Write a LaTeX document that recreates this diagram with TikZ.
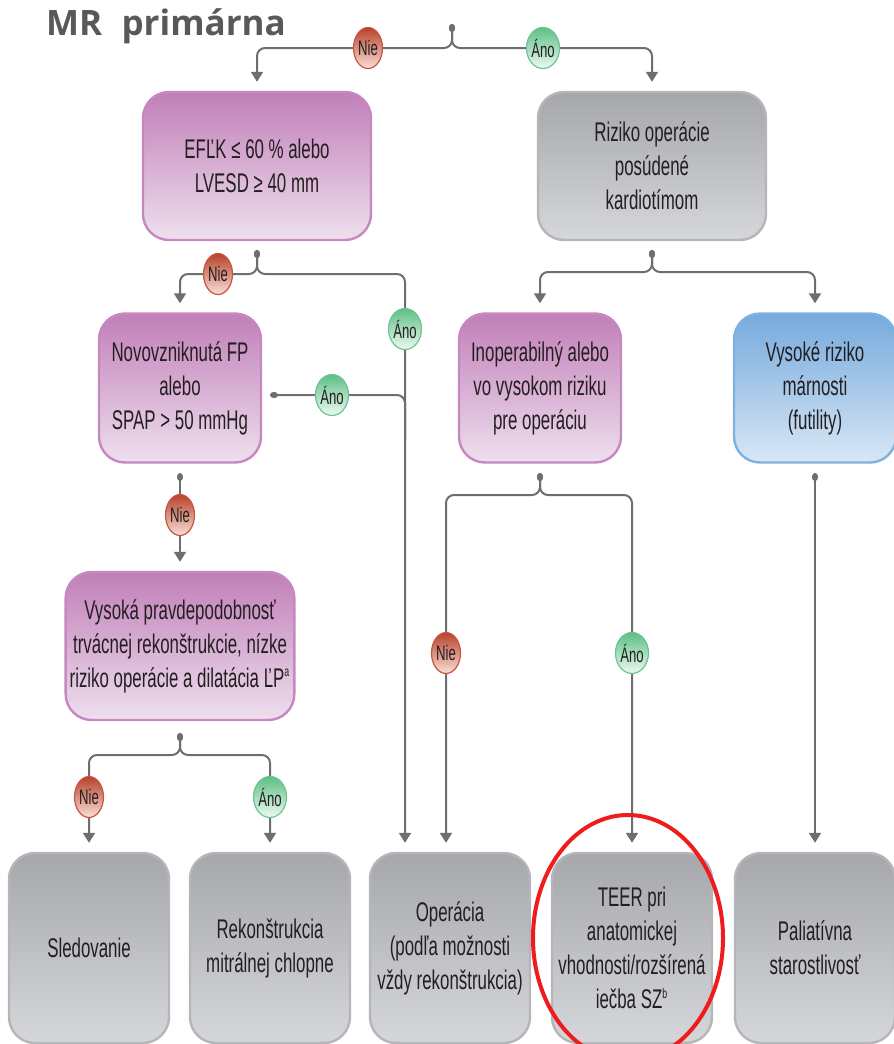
\documentclass[tikz,border=0pt]{standalone}
\usepackage{fontspec}
\setmainfont{Liberation Sans}[FakeStretch=0.625]
\newfontfamily\titlefont{Open Sans}
\usetikzlibrary{arrows.meta,shapes.geometric}
\definecolor{linec}{HTML}{6D6E71}
\definecolor{titlec}{HTML}{58595B}
\definecolor{boxtext}{HTML}{231F20}
\definecolor{pinktop}{HTML}{C17FB8}
\definecolor{pinkbot}{HTML}{EEDFEE}
\definecolor{pinkline}{HTML}{C688C0}
\definecolor{greytop}{HTML}{A5A7AA}
\definecolor{greybot}{HTML}{D5D7DA}
\definecolor{greyline}{HTML}{B4B6B9}
\definecolor{bluetop}{HTML}{76AADD}
\definecolor{bluebot}{HTML}{D8E7F5}
\definecolor{blueline}{HTML}{7EB1E0}
\definecolor{nietop}{HTML}{B8412C}
\definecolor{niebot}{HTML}{F8E0D6}
\definecolor{nieline}{HTML}{C9553E}
\definecolor{anotop}{HTML}{5DBF85}
\definecolor{anobot}{HTML}{EEF9F2}
\definecolor{anoline}{HTML}{6CC590}
\definecolor{ringc}{HTML}{EE1C1C}
\begin{document}
\begin{tikzpicture}[x=0.5pt, y=-0.5pt,
  box/.style={rectangle, rounded corners=13pt, very thick, align=center, inner sep=2pt,
    text=boxtext, font=\fontsize{13.5}{17}\selectfont},
  pinkbox/.style={box, draw=pinkline, top color=pinktop, bottom color=pinkbot},
  greybox/.style={box, draw=greyline, top color=greytop, bottom color=greybot},
  bluebox/.style={box, draw=blueline, top color=bluetop, bottom color=bluebot},
  boxL/.style={minimum width=114pt, minimum height=74pt},
  boxM/.style={minimum width=81pt, minimum height=74.5pt},
  boxS/.style={minimum width=80pt, minimum height=95pt},
  lbl/.style={ellipse, inner sep=0pt, minimum width=14.5pt, minimum height=20.5pt, line width=0.6pt,
    text=boxtext, font=\fontsize{10.5}{10.5}\selectfont},
  nie/.style={lbl, draw=nieline, top color=nietop, bottom color=niebot},
  ano/.style={lbl, draw=anoline, top color=anotop, bottom color=anobot},
  conn/.style={draw=linec, line width=1pt, rounded corners=4pt,
    {Circle[length=4pt,width=3pt]}-{Triangle[length=5pt,width=6pt]}, shorten >=4.5pt},
  tap/.style={draw=linec, line width=1pt, rounded corners=4pt, {Circle[length=4pt,width=3pt]}-}
]
  \useasboundingbox (0,0) rectangle (894,1044);

  \node[font=\titlefont\bfseries\fontsize{17.5}{17.5}\selectfont, text=titlec] (title) at (166,26) {MR\hspace{0.55em}primárna};

  \node[pinkbox, boxL] (ef) at (257,166) {EFĽK ≤ 60\,\% alebo\\LVESD ≥ 40 mm};
  \node[greybox, boxL] (risk) at (652,166) {Riziko operácie\\posúdené\\kardiotímom};
  \node[pinkbox, boxM] (novo) at (180,388) {Novovzniknutá FP\\alebo\\SPAP > 50 mmHg};
  \node[pinkbox, boxM] (inop) at (540,388) {Inoperabilný alebo\\vo vysokom riziku\\pre operáciu};
  \node[bluebox, boxM] (futil) at (815,388) {Vysoké riziko\\márnosti\\(futility)};
  \node[pinkbox, boxL] (prob) at (180,646) {Vysoká pravdepodobnosť\\trvácnej rekonštrukcie, nízke\\riziko operácie a dilatácia ĽP\textsuperscript{\scriptsize a}};
  \node[greybox, boxS] (sled) at (89,948) {Sledovanie};
  \node[greybox, boxS] (rekon) at (270,948) {Rekonštrukcia\\mitrálnej chlopne};
  \node[greybox, boxS] (oper) at (450,948) {Operácia\\(podľa možnosti\\vždy rekonštrukcia)};
  \node[greybox, boxS] (teer) at (632,948) {TEER pri\\anatomickej\\vhodnosti/rozšírená\\iečba SZ\textsuperscript{\scriptsize b}};
  \node[greybox, boxS] (pal) at (815,948) {Paliatívna\\starostlivosť};

  \coordinate (d0) at (452,24);
  \coordinate (j0) at (452,48);
  \coordinate (d1) at (257,250);
  \coordinate (j1) at (257,274);
  \coordinate (c1) at (405,274);
  \coordinate (d2) at (270,395);
  \coordinate (m2) at (405,440);
  \coordinate (d3) at (180,473);
  \coordinate (d4) at (180,733);
  \coordinate (j4) at (180,755);
  \coordinate (d5) at (652,250);
  \coordinate (j5) at (652,272);
  \coordinate (d6) at (540,473);
  \coordinate (j6) at (540,495);
  \coordinate (c6) at (446,495);
  \coordinate (d7) at (815,473);

  \draw[conn] (d0) -- (j0) -| (ef.north);
  \draw[conn] (d0) -- (j0) -| (risk.north);
  \draw[conn] (d1) -- (j1) -| (novo.north);
  \draw[conn] (d1) -- (j1) -| (oper.north -| c1);
  \draw[tap] (d2) -| (m2);
  \draw[conn] (d3) -- (prob.north);
  \draw[conn] (d4) -- (j4) -| (sled.north);
  \draw[conn] (d4) -- (j4) -| (rekon.north);
  \draw[conn] (d5) -- (j5) -| (inop.north);
  \draw[conn] (d5) -- (j5) -| (futil.north);
  \draw[conn] (d6) -- (j6) -| (oper.north -| c6);
  \draw[conn] (d6) -- (j6) -| (teer.north);
  \draw[conn] (d7) -- (pal.north);

  \node[nie] (n1) at (368,48) {Nie};
  \node[ano] (a1) at (543,48) {Áno};
  \node[nie] (n2) at (218,274) {Nie};
  \node[ano] (a2) at (405,329) {Áno};
  \node[ano] (a3) at (332,395) {Áno};
  \node[nie] (n3) at (180,515) {Nie};
  \node[nie] (n4) at (89,797) {Nie};
  \node[ano] (a4) at (270,797) {Áno};
  \node[nie] (n5) at (446,653) {Nie};
  \node[ano] (a5) at (632,653) {Áno};

  \draw[ringc, line width=2pt] (628,938) ellipse [x radius=95, y radius=123];
\end{tikzpicture}
\end{document}
